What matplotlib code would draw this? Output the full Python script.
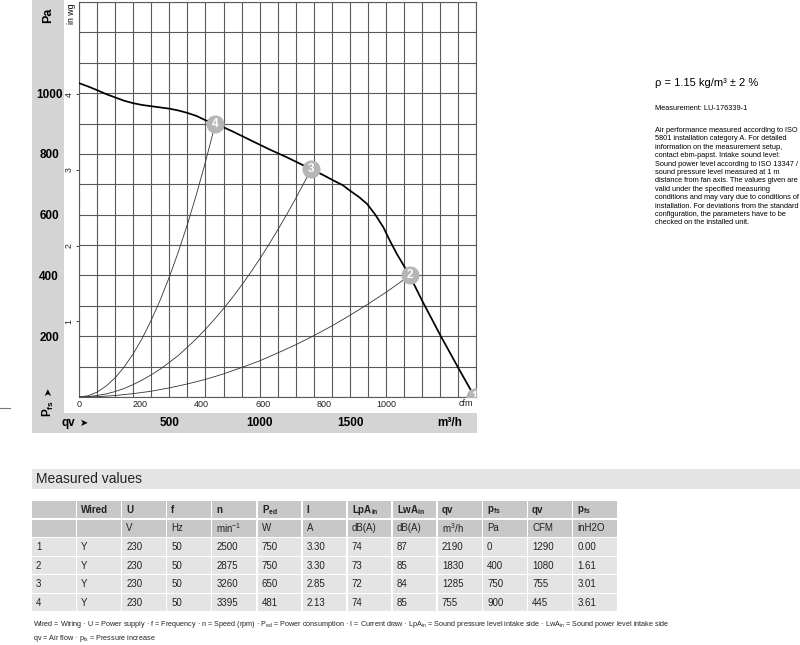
"""
Fan performance chart with measured values table (ebm-papst style datasheet)
"""

import matplotlib
matplotlib.use('Agg')
import matplotlib.pyplot as plt
from matplotlib.patches import Rectangle
from matplotlib.lines import Line2D

plt.rcParams['font.family'] = ['Liberation Sans', 'DejaVu Sans']
plt.rcParams['mathtext.fontset'] = 'custom'
plt.rcParams['mathtext.rm'] = 'Liberation Sans'
plt.rcParams['mathtext.it'] = 'Liberation Sans'
plt.rcParams['mathtext.bf'] = 'Liberation Sans:bold'

# Fan curve, air flow qv (m3/h) vs pressure increase pfs (Pa)
fan_q = [0, 50, 100, 150, 200, 250, 300, 350, 400, 450, 500, 550, 600, 650, 700,
         755, 850, 950, 1050, 1150, 1285, 1350, 1410, 1460, 1500, 1550, 1595,
         1640, 1685, 1720, 1760, 1795, 1830, 1900, 2000, 2100, 2190]
fan_p = [1033, 1022, 1010, 997, 986, 975, 967, 961, 957, 953, 949, 943, 935, 925,
         911, 900, 874, 845, 816, 789, 750, 731, 712, 697, 679, 658, 635,
         600, 558, 515, 470, 435, 400, 316, 203, 95, 0]

# System curves through the operating points 4, 3 and 2
sys4_q = [0, 50, 100, 150, 200, 250, 300, 350, 400, 450, 500, 550, 600, 650, 700, 755]
sys4_p = [0, 4, 16, 36, 63, 99, 142, 193, 253, 320, 395, 478, 568, 667, 774, 900]
sys3_q = [0, 50, 100, 150, 200, 250, 300, 350, 400, 450, 500, 550, 600, 650, 700,
          750, 800, 850, 900, 950, 1000, 1050, 1100, 1150, 1200, 1250, 1285]
sys3_p = [0, 1, 5, 10, 18, 28, 41, 56, 73, 92, 114, 137, 164, 192, 223, 256,
          291, 328, 368, 410, 454, 501, 550, 601, 654, 710, 750]
sys2_q = [0, 100, 200, 300, 400, 500, 600, 700, 800, 900, 1000, 1100, 1200,
          1300, 1400, 1500, 1600, 1700, 1800, 1830]
sys2_p = [0, 1, 5, 11, 19, 30, 43, 58, 76, 97, 119, 145, 172, 202, 234, 269,
          306, 345, 387, 400]

# Measured values table
point_no = ['1', '2', '3', '4']
wired = ['Y', 'Y', 'Y', 'Y']
volt = ['230', '230', '230', '230']
freq = ['50', '50', '50', '50']
speed = ['2500', '2875', '3260', '3395']
power = ['750', '750', '650', '481']
current = ['3.30', '3.30', '2.85', '2.13']
lpa = ['74', '73', '72', '74']
lwa = ['87', '85', '84', '85']
qv_m3h = [2190, 1830, 1285, 755]
pfs_pa = [0, 400, 750, 900]
qv_cfm = ['1290', '1080', '755', '445']
pfs_inwg = ['0.00', '1.61', '3.01', '3.61']

header = ['', 'Wired', 'U', 'f', 'n', r'P$_{\mathbf{ed}}$', 'I', r'LpA$_{\mathbf{in}}$',
          r'LwA$_{\mathbf{in}}$', 'qv', r'p$_{\mathbf{fs}}$', 'qv', r'p$_{\mathbf{fs}}$']
units = ['', '', 'V', 'Hz', r'min$^{-1}$', 'W', 'A', 'dB(A)', 'dB(A)', r'm$^{3}$/h',
         'Pa', 'CFM', 'inH2O']

W, H = 800, 645


def fx(px):
    return px / W


def fy(py):
    return 1 - py / H


fig = plt.figure(figsize=(8, 6.45), dpi=100)
fig.patch.set_facecolor('white')

# grey frame round the chart
fig.add_artist(Rectangle((fx(32), fy(433)), fx(477) - fx(32), 433 / H,
                         facecolor='#d4d4d4', edgecolor='none', zorder=0))
fig.add_artist(Rectangle((fx(64), fy(413)), fx(477) - fx(64), 413 / H,
                         facecolor='white', edgecolor='none', zorder=0))
fig.add_artist(Line2D([0, fx(10)], [fy(408), fy(408)], color='#777777', lw=0.8))

ax = fig.add_axes([fx(79), fy(397), fx(476.5) - fx(79), (397 - 2) / H])
ax.set_facecolor('none')
ax.set_xlim(0, 2200)
ax.set_ylim(0, 1300)

grid_c = '#5a5a5a'
xt = list(range(0, 2201, 100))
ax.set_xticks(xt)
ax.set_xticklabels([str(v) if v in (500, 1000, 1500) else '' for v in xt],
                   fontsize=8.5, fontweight='bold')
yt = list(range(0, 1301, 100))
ax.set_yticks(yt)
ax.set_yticklabels([str(v) if v in (200, 400, 600, 800, 1000) else '' for v in yt],
                   fontsize=8.5, fontweight='bold')
for lab in ax.get_yticklabels():
    lab.set_horizontalalignment('center')
ax.tick_params(axis='x', length=0, pad=14.5)
ax.tick_params(axis='y', length=0, pad=21.5)
ax.grid(True, color=grid_c, lw=0.8)
for s in ax.spines.values():
    s.set_color(grid_c)
    s.set_linewidth(0.8)

# system curves and fan curve
for q, p in [(sys4_q, sys4_p), (sys3_q, sys3_p), (sys2_q, sys2_p)]:
    ax.plot(q, p, color='#333333', lw=0.6, zorder=3)
ax.plot(fan_q, fan_p, color='black', lw=1.25, zorder=4)

# operating point markers
for i in range(4):
    ax.plot(qv_m3h[i], pfs_pa[i], 'o', ms=13, color='#b5b5b5', mec='none', zorder=5)
    ax.text(qv_m3h[i], pfs_pa[i], point_no[i], ha='center', va='center',
            fontsize=8.5, fontweight='bold', color='white', zorder=6, clip_on=True)

# cfm axis
cfm = ax.secondary_xaxis('bottom', functions=(lambda q: q / 1.699, lambda c: c * 1.699))
cfm.set_xticks([0, 200, 400, 600, 800, 1000])
cfm.tick_params(length=0, pad=2, labelsize=6.5, colors='#222222')
cfm.spines['bottom'].set_visible(False)
ax.text(2139, -0.005, 'cfm', transform=ax.get_xaxis_transform(), ha='center', va='top',
        fontsize=6.5, color='#222222')

# in wg axis
inwg = ax.secondary_yaxis('left', functions=(lambda p: p / 249.09, lambda w: w * 249.09))
inwg.set_yticks([1, 2, 3, 4])
inwg.tick_params(length=2.5, width=0.6, pad=1.5, labelsize=6.3, colors='#222222')
for lab in inwg.get_yticklabels():
    lab.set_rotation(90)
    lab.set_verticalalignment('center')
inwg.spines['left'].set_visible(False)

fig.text(fx(71), fy(14), 'in wg', rotation=90, ha='center', va='center', fontsize=6.3)
fig.text(fx(48), fy(15), 'Pa', rotation=90, ha='center', va='center',
         fontsize=9, fontweight='bold')
fig.text(fx(48), fy(408), r'P$_{\mathbf{fs}}$', rotation=90, ha='center', va='center',
         fontsize=8.5, fontweight='bold')
fig.text(fx(48), fy(391), '➤', rotation=90, ha='center', va='center', fontsize=7,
         family=['DejaVu Sans'])
fig.text(fx(62), fy(423), 'qv', ha='left', va='center', fontsize=8.5, fontweight='bold')
fig.text(fx(84), fy(423), '➤', ha='center', va='center', fontsize=7,
         family=['DejaVu Sans'])
fig.text(fx(450), fy(423), 'm³/h', ha='center', va='center', fontsize=8.5,
         fontweight='bold')

# right hand notes
fig.text(fx(655), fy(83), 'ρ = 1.15 kg/m³ ± 2 %', ha='left', va='center', fontsize=8)
fig.text(fx(655), fy(109), 'Measurement: LU-176339-1', ha='left', va='center',
         fontsize=5.3)
note = ('Air performance measured according to ISO\n'
        '5801 installation category A. For detailed\n'
        'information on the measurement setup,\n'
        'contact ebm-papst. Intake sound level:\n'
        'Sound power level according to ISO 13347 /\n'
        'sound pressure level measured at 1 m\n'
        'distance from fan axis. The values given are\n'
        'valid under the specified measuring\n'
        'conditions and may vary due to conditions of\n'
        'installation. For deviations from the standard\n'
        'configuration, the parameters have to be\n'
        'checked on the installed unit.')
fig.text(fx(655), fy(127), note, ha='left', va='top', fontsize=5.3, linespacing=1.28)

# measured values table
fig.add_artist(Rectangle((fx(32), fy(489)), fx(800) - fx(32), 20 / H,
                         facecolor='#e4e4e4', edgecolor='none'))
fig.text(fx(36), fy(479), 'Measured values', ha='left', va='center', fontsize=10,
         color='#222222')

col_w = 45.1
row_h = 18.6
top = 501
columns = [point_no, wired, volt, freq, speed, power, current, lpa, lwa,
           [str(v) for v in qv_m3h], [str(v) for v in pfs_pa], qv_cfm, pfs_inwg]
rows = [header, units] + [[c[r] for c in columns] for r in range(4)]
for r, row in enumerate(rows):
    y0 = top + r * row_h
    fc = '#c8c8c8' if r < 2 else '#e4e4e4'
    for c, val in enumerate(row):
        x0 = 32 + c * col_w
        fig.add_artist(Rectangle((fx(x0), fy(y0 + row_h - 1.2)), (col_w - 1.5) / W,
                                 (row_h - 1.2) / H, facecolor=fc, edgecolor='none'))
        fig.text(fx(x0 + 4), fy(y0 + row_h / 2 - 0.5), val, ha='left', va='center',
                 fontsize=7, color='#222222',
                 fontweight='bold' if r == 0 else 'normal')

foot1 = (r'Wired = Wiring · U = Power supply · f = Frequency · n = Speed (rpm) · '
         r'P$_{ed}$ = Power consumption · I = Current draw · LpA$_{in}$ = Sound pressure '
         r'level intake side · LwA$_{in}$ = Sound power level intake side')
foot2 = r'qv = Air flow · p$_{fs}$ = Pressure increase'
fig.text(fx(33), fy(624), foot1, ha='left', va='center', fontsize=5.2, color='#222222')
fig.text(fx(33), fy(638), foot2, ha='left', va='center', fontsize=5.2, color='#222222')

plt.savefig('out.png', dpi=100, facecolor='white')
plt.close()
